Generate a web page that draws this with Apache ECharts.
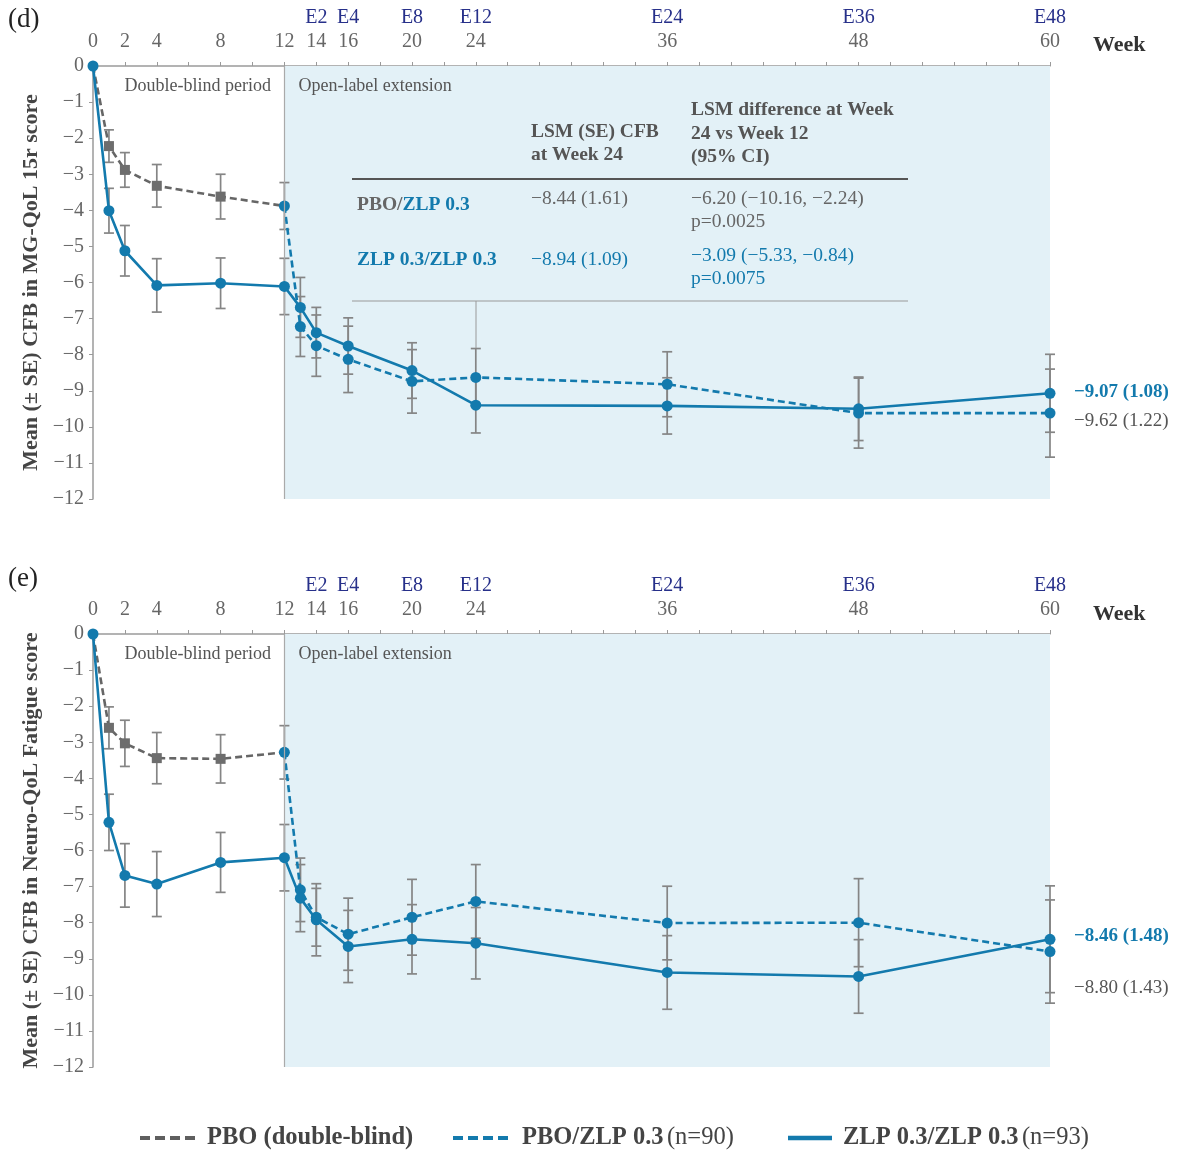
<!DOCTYPE html>
<html><head><meta charset="utf-8">
<script src="https://cdn.jsdelivr.net/npm/echarts@6/dist/echarts.min.js"></script>
<style>html,body{margin:0;padding:0;background:#fff}#c{width:1179px;height:1154px}</style>
</head><body><div id="c"></div>
<script>
// ---------- data ----------
const tickWeeks = [0, 2, 4, 8, 12, 14, 16, 20, 24, 36, 48, 60];
const extLabels = ['', '', '', '', '', 'E2', 'E4', 'E8', 'E12', 'E24', 'E36', 'E48'];

const pboWeeks = [0, 1, 2, 4, 8, 12];
const olWeeks = [12, 13, 14, 16, 20, 24, 36, 48, 60];
const zlpWeeks = [0, 1, 2, 4, 8, 12, 13, 14, 16, 20, 24, 36, 48, 60];

// Panel (d) MG-QoL 15r
const dPbo = [0, -2.22, -2.88, -3.32, -3.62, -3.88];
const dPboSE = [0, 0.45, 0.48, 0.59, 0.62, 0];
const dPboZlp = [-3.88, -7.22, -7.75, -8.13, -8.74, -8.63, -8.82, -9.62, -9.62];
const dPboZlpSE = [0.65, 0.83, 0.85, 0.92, 0.88, 0.80, 0.90, 0.97, 1.22];
const dZlp = [0, -4.01, -5.12, -6.08, -6.02, -6.11, -6.69, -7.39, -7.76, -8.44, -9.40, -9.42, -9.50, -9.07];
const dZlpSE = [0, 0.62, 0.70, 0.74, 0.70, 0.78, 0.83, 0.70, 0.78, 0.77, 0.77, 0.78, 0.88, 1.08];

// Panel (e) Neuro-QoL Fatigue
const ePbo = [0, -2.60, -3.03, -3.44, -3.46, -3.28];
const ePboSE = [0, 0.58, 0.64, 0.71, 0.67, 0];
const ePboZlp = [-3.28, -7.09, -7.85, -8.32, -7.85, -7.41, -8.01, -8.00, -8.80];
const ePboZlpSE = [0.74, 0.88, 0.80, 1.00, 1.05, 1.02, 1.02, 1.22, 1.43];
const eZlp = [0, -5.22, -6.69, -6.93, -6.33, -6.20, -7.32, -7.92, -8.66, -8.46, -8.57, -9.38, -9.49, -8.46];
const eZlpSE = [0, 0.78, 0.88, 0.90, 0.83, 0.92, 0.93, 1.00, 1.00, 0.96, 0.99, 1.02, 1.02, 1.48];

const yNames = ['Mean (\u00b1 SE) CFB in MG-QoL 15r score', 'Mean (\u00b1 SE) CFB in Neuro-QoL Fatigue score'];

// ---------- styles ----------
const BLUE = '#137aad';
const GREY = '#666666';
const ERR = '#858585';
const SHADE = '#e3f1f7';
const FONT = '"Liberation Serif", "Times New Roman", serif';
const minus = s => String(s).replace(/-/g, '\u2212');

function pairs(w, v) { return w.map((x, i) => [x, v[i]]); }

function errSeries(idx, weeks, vals, ses) {
  const data = [];
  weeks.forEach((w, i) => { if (ses[i] > 0) data.push([w, vals[i] - ses[i], vals[i] + ses[i]]); });
  return {
    type: 'custom', xAxisIndex: idx, yAxisIndex: idx, silent: true, z: 2,
    encode: { x: 0, y: [1, 2] },
    data,
    renderItem: (params, api) => {
      const x = api.value(0);
      const lo = api.coord([x, api.value(1)]);
      const hi = api.coord([x, api.value(2)]);
      const w = 5, st = { stroke: ERR, lineWidth: 1.7 };
      return { type: 'group', children: [
        { type: 'line', shape: { x1: lo[0], y1: lo[1], x2: hi[0], y2: hi[1] }, style: st },
        { type: 'line', shape: { x1: lo[0] - w, y1: lo[1], x2: lo[0] + w, y2: lo[1] }, style: st },
        { type: 'line', shape: { x1: hi[0] - w, y1: hi[1], x2: hi[0] + w, y2: hi[1] }, style: st }
      ]};
    }
  };
}

function panelSeries(idx, pbo, pboSE, ol, olSE, zlp, zlpSE, olOffset, zlpOffset) {
  const pboData = pairs(pboWeeks, pbo).map((p, i) => ({
    value: p, symbol: (i === 0 || i === pboWeeks.length - 1) ? 'none' : 'rect'
  }));
  return [
    errSeries(idx, pboWeeks, pbo, pboSE),
    errSeries(idx, olWeeks, ol, olSE),
    errSeries(idx, zlpWeeks, zlp, zlpSE),
    {
      type: 'line', xAxisIndex: idx, yAxisIndex: idx, z: 3, data: pboData,
      symbolSize: 10, lineStyle: { color: GREY, width: 2.6, type: [7, 4] },
      itemStyle: { color: '#6d6d6d' },
      markArea: {
        silent: true,
        data: [
          [{ xAxis: 0, itemStyle: { color: 'rgba(0,0,0,0)' },
             label: { show: true, position: 'insideTop', offset: [9, 6], formatter: 'Double-blind period',
                      color: '#555', fontFamily: FONT, fontSize: 18 } },
           { xAxis: 12 }],
          [{ xAxis: 12, itemStyle: { color: SHADE },
             label: { show: true, position: 'insideTopLeft', offset: [9, 6], formatter: 'Open-label extension',
                      color: '#555', fontFamily: FONT, fontSize: 18 } },
           { xAxis: 60.3 }]
        ]
      },
      markLine: {
        silent: true, symbol: 'none', label: { show: false },
        lineStyle: { color: '#aaaaaa', type: 'solid', width: 1.2 },
        data: [{ xAxis: 12 }]
      }
    },
    {
      type: 'line', xAxisIndex: idx, yAxisIndex: idx, z: 4, data: pairs(olWeeks, ol),
      symbol: 'circle', symbolSize: 11,
      lineStyle: { color: BLUE, width: 2.6, type: [7, 4] }, itemStyle: { color: BLUE },
      endLabel: {
        show: true, distance: 24, offset: olOffset,
        formatter: p => minus(p.value[1].toFixed(2)) + ' (' + olSE[olSE.length - 1].toFixed(2) + ')',
        color: '#555', fontFamily: FONT, fontSize: 19
      }
    },
    {
      type: 'line', xAxisIndex: idx, yAxisIndex: idx, z: 5, data: pairs(zlpWeeks, zlp),
      symbol: 'circle', symbolSize: 11,
      lineStyle: { color: BLUE, width: 2.6 }, itemStyle: { color: BLUE },
      endLabel: {
        show: true, distance: 24, offset: zlpOffset,
        formatter: p => minus(p.value[1].toFixed(2)) + ' (' + zlpSE[zlpSE.length - 1].toFixed(2) + ')',
        color: BLUE, fontWeight: 'bold', fontFamily: FONT, fontSize: 19
      }
    }
  ];
}

function xAxisDef(idx) {
  return {
    type: 'value', gridIndex: idx, position: 'top', min: 0, max: 60, interval: 2,
    axisLine: { show: true, lineStyle: { color: '#9a9a9a', width: 1.5 } },
    axisTick: { show: true, length: 4, lineStyle: { color: '#9a9a9a' } },
    splitLine: { show: false },
    axisLabel: {
      margin: 13, fontFamily: FONT,
      formatter: v => {
        const k = tickWeeks.indexOf(v);
        if (k < 0) return '';
        return extLabels[k] ? '{e|' + extLabels[k] + '}\n{n|' + v + '}' : '{n|' + v + '}';
      },
      rich: {
        e: { color: '#27308a', fontFamily: FONT, fontSize: 20, lineHeight: 26 },
        n: { color: '#666', fontFamily: FONT, fontSize: 20, lineHeight: 22 }
      }
    }
  };
}

function yAxisDef(idx) {
  return {
    type: 'value', gridIndex: idx, min: -12, max: 0, interval: 1,
    name: yNames[idx], nameLocation: 'middle', nameGap: 50,
    nameTextStyle: { fontFamily: FONT, fontWeight: 'bold', fontSize: 22, color: '#454545' },
    axisLine: { show: true, lineStyle: { color: '#9a9a9a', width: 1.5 } },
    axisTick: { show: true, length: 4, lineStyle: { color: '#9a9a9a' } },
    splitLine: { show: false },
    axisLabel: { margin: 9, color: '#666', fontFamily: FONT, fontSize: 20, formatter: v => minus(v) }
  };
}

const txt = (x, y, text, style) => ({ type: 'text', x, y, z: 100, silent: true,
  style: Object.assign({ text, fontFamily: FONT, fontSize: 19.5, fill: '#555', verticalAlign: 'middle' }, style) });
const hline = (x1, x2, y, color, w, dash) => ({ type: 'line', z: 100, silent: true,
  shape: { x1, y1: y, x2, y2: y }, style: { stroke: color, lineWidth: w, lineDash: dash || null } });

const graphics = [
  txt(8, 20, '(d)', { fontSize: 27, fill: '#222' }),
  txt(8, 579, '(e)', { fontSize: 27, fill: '#222' }),
  txt(1093, 45, 'Week', { fontSize: 22, fontWeight: 'bold', fill: '#333' }),
  txt(1093, 614, 'Week', { fontSize: 22, fontWeight: 'bold', fill: '#333' }),
  // table
  txt(531, 132, 'LSM (SE) CFB', { fontWeight: 'bold' }),
  txt(531, 155, 'at Week 24', { fontWeight: 'bold' }),
  txt(691, 110, 'LSM difference at Week', { fontWeight: 'bold' }),
  txt(691, 134, '24 vs Week 12', { fontWeight: 'bold' }),
  txt(691, 157, '(95% CI)', { fontWeight: 'bold' }),
  hline(352, 908, 179, '#555', 2),
  { type: 'text', x: 357, y: 205, z: 100, silent: true, style: {
      text: '{g|PBO/}{b|ZLP 0.3}', verticalAlign: 'middle',
      rich: { g: { fill: '#666', fontWeight: 'bold', fontFamily: FONT, fontSize: 19.5 },
              b: { fill: BLUE, fontWeight: 'bold', fontFamily: FONT, fontSize: 19.5 } } } },
  txt(531, 199, '\u22128.44 (1.61)', { fill: '#666' }),
  txt(691, 199, '\u22126.20 (\u221210.16, \u22122.24)', { fill: '#666' }),
  txt(691, 222, 'p=0.0025', { fill: '#666' }),
  txt(357, 260, 'ZLP 0.3/ZLP 0.3', { fill: BLUE, fontWeight: 'bold' }),
  txt(531, 260, '\u22128.94 (1.09)', { fill: BLUE }),
  txt(691, 256, '\u22123.09 (\u22125.33, \u22120.84)', { fill: BLUE }),
  txt(691, 279, 'p=0.0075', { fill: BLUE }),
  hline(352, 908, 301, '#999', 1.2),
  { type: 'line', z: 100, silent: true, shape: { x1: 476, y1: 301, x2: 476, y2: 348 }, style: { stroke: '#999', lineWidth: 1 } },
  // legend
  hline(140, 200, 1138, '#5f5f5f', 4, [10, 5]),
  txt(207, 1138, 'PBO (double-blind)', { fontWeight: 'bold', fontSize: 24.5, fill: '#444' }),
  hline(453, 513, 1138, BLUE, 4, [10, 5]),
  { type: 'text', x: 522, y: 1138, z: 100, silent: true, style: {
      text: '{b|PBO/ZLP 0.3} {n|(n=90)}', verticalAlign: 'middle',
      rich: { b: { fill: '#444', fontWeight: 'bold', fontFamily: FONT, fontSize: 24.5 },
              n: { fill: '#444', fontFamily: FONT, fontSize: 24.5 } } } },
  hline(788, 832, 1138, BLUE, 4.5),
  { type: 'text', x: 843, y: 1138, z: 100, silent: true, style: {
      text: '{b|ZLP 0.3/ZLP 0.3} {n|(n=93)}', verticalAlign: 'middle',
      rich: { b: { fill: '#444', fontWeight: 'bold', fontFamily: FONT, fontSize: 24.5 },
              n: { fill: '#444', fontFamily: FONT, fontSize: 24.5 } } } }
];

const chart = echarts.init(document.getElementById('c'), null, { renderer: 'canvas' });
chart.setOption({
  backgroundColor: '#ffffff',
  animation: false,
  textStyle: { fontFamily: FONT },
  grid: [
    { left: 93, right: 129, top: 66, height: 433 },
    { left: 93, right: 129, top: 634, height: 433 }
  ],
  xAxis: [xAxisDef(0), xAxisDef(1)],
  yAxis: [yAxisDef(0), yAxisDef(1)],
  series: [].concat(
    panelSeries(0, dPbo, dPboSE, dPboZlp, dPboZlpSE, dZlp, dZlpSE, [0, 8], [0, -1]),
    panelSeries(1, ePbo, ePboSE, ePboZlp, ePboZlpSE, eZlp, eZlpSE, [0, 36], [0, -3])
  ),
  graphic: graphics
});
</script></body></html>
